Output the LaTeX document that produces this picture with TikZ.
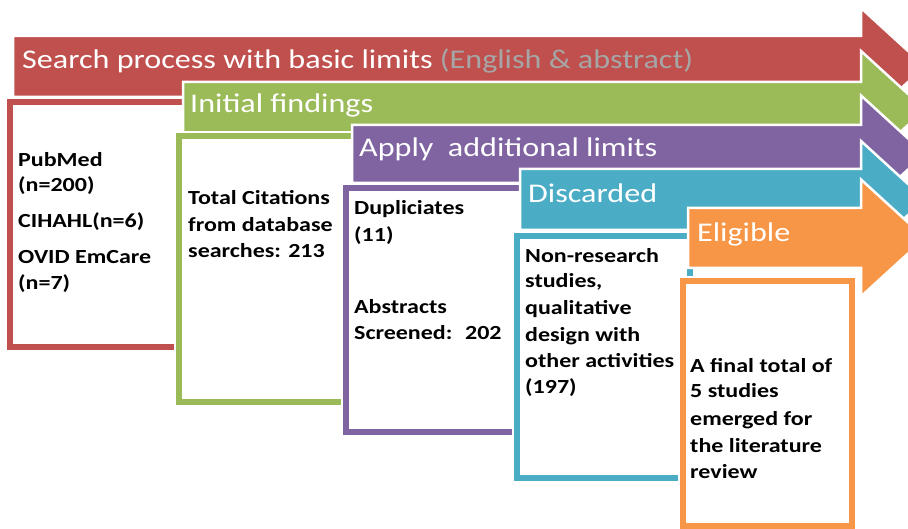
\documentclass[tikz,border=0pt]{standalone}
\usepackage{fontspec}
\setmainfont{Carlito}
\newfontfamily\widefont[FakeStretch=1.19]{Carlito}
\newfontfamily\widebodyfont[FakeStretch=1.2]{Carlito}
\definecolor{cred}{HTML}{C0504D}
\definecolor{cgreen}{HTML}{9BBB59}
\definecolor{cpurple}{HTML}{8064A2}
\definecolor{cteal}{HTML}{4BACC6}
\definecolor{corange}{HTML}{F79646}
\definecolor{cgray}{HTML}{A6A6A6}
\begin{document}
\begin{tikzpicture}[x=1pt,y=-1pt,
  stepbar/.style={fill=#1, draw=white, line width=2.5pt, line join=miter},
  stepframe/.style={draw=#1, line width=6pt, fill=white, preaction={draw=white, line width=10pt}},
  headtext/.style={text=white, font=\widefont\fontsize{27}{30}\selectfont, anchor=base west, inner sep=0pt},
  bodytext/.style={font=\widebodyfont\fontsize{20}{24}\selectfont\bfseries, anchor=base west, inner sep=0pt},
]
\useasboundingbox (0,0) rectangle (908,529);
\clip (0,0) rectangle (908,529);
% red
\draw[stepbar=cred] (13,36) -- (861,36) -- (861,8) -- (925,66.5) -- (861,125) -- (861,97) -- (13,97) -- cycle;
\node[headtext] (hred) at (22,69) {Search process with basic limits {\color{cgray}(English \& abstract)}};
\draw[stepframe=cred] (10,102) rectangle (186,347);
\foreach \t/\yy [count=\i] in {PubMed/167, (n=200)/192, CIHAHL(n=6)/228, OVID EmCare/264, (n=7)/290}
  \node[bodytext] (red\i) at (18,\yy) {\t};
% green
\draw[stepbar=cgreen] (183,82) -- (861,82) -- (861,51) -- (925,109.5) -- (861,168) -- (861,137) -- (183,137) -- cycle;
\node[headtext] (hgreen) at (190,113) {Initial findings};
\draw[stepframe=cgreen] (179,136) rectangle (356,402);
\foreach \t/\yy [count=\i] in {Total Citations/205, from database/232, searches: 213/258}
  \node[bodytext] (green\i) at (188,\yy) {\t};
% purple
\draw[stepbar=cpurple] (352,125) -- (861,125) -- (861,95.5) -- (925,154) -- (861,212.5) -- (861,183) -- (352,183) -- cycle;
\node[headtext] (hpurple) at (359,157) {Apply~ additional limits};
\draw[stepframe=cpurple] (346,188) rectangle (524,432);
\foreach \t/\yy [count=\i] in {Dupliciates/215, (11)/242, Abstracts/314, Screened:~ 202/340}
  \node[bodytext] (purple\i) at (354,\yy) {\t};
% teal
\draw[stepbar=cteal] (520,169) -- (861,169) -- (861,141) -- (925,199.5) -- (861,258) -- (861,230) -- (520,230) -- cycle;
\node[headtext] (hteal) at (528,203) {Discarded};
\draw[stepframe=cteal] (517,236) rectangle (690,478);
\foreach \t/\yy [count=\i] in {Non-research/263, {studies,}/288, qualitative/315, design with/342, other activities/367, (197)/393}
  \node[bodytext] (teal\i) at (525,\yy) {\t};
% orange
\draw[stepbar=corange] (688,208) -- (861,208) -- (861,179.5) -- (925,238) -- (861,296.5) -- (861,268) -- (688,268) -- cycle;
\node[headtext] (horange) at (697,242) {Eligible};
\draw[stepframe=corange] (683,281) rectangle (852,526);
\foreach \t/\yy [count=\i] in {A final total of/373, 5 studies/398, emerged for/425, the literature/452, review/478}
  \node[bodytext] (orange\i) at (690,\yy) {\t};
\end{tikzpicture}
\end{document}
